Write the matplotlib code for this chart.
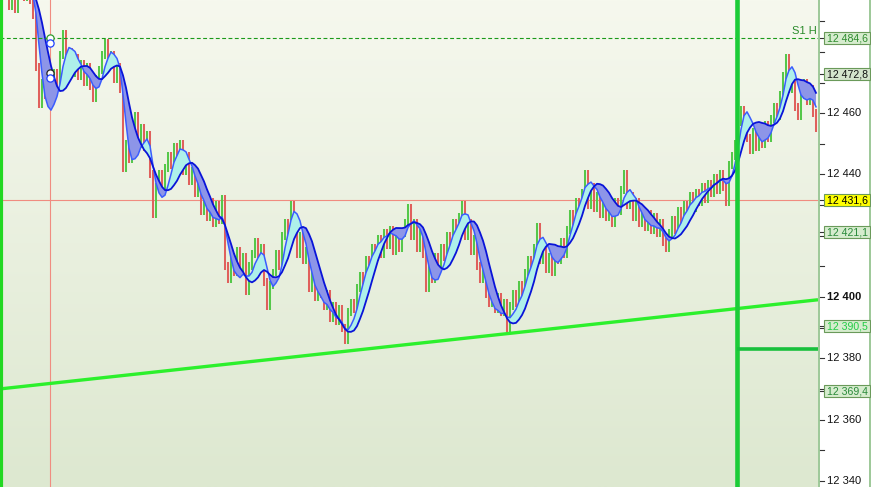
import numpy as np
import matplotlib
matplotlib.use("Agg")
import matplotlib.pyplot as plt
from matplotlib.patches import Rectangle
from matplotlib.colors import LinearSegmentedColormap

# ---------------- data ----------------
closes = [
    12499, 12495, 12501, 12494, 12500, 12503, 12498, 12502, 12497, 12492,
    12475, 12463, 12470, 12466, 12472, 12468, 12473, 12470, 12479, 12486,
    12477, 12480, 12473, 12478, 12472, 12476, 12470, 12475, 12469, 12465,
    12471, 12474, 12479, 12483, 12476, 12479, 12471, 12475, 12468, 12442,
    12450, 12445, 12455, 12459, 12450, 12455, 12449, 12453, 12440, 12427,
    12436, 12440, 12436, 12442, 12446, 12443, 12449, 12444, 12450, 12441,
    12446, 12438, 12441, 12434, 12437, 12428, 12434, 12426, 12431, 12424,
    12430, 12425, 12432, 12410, 12406, 12413, 12408, 12415, 12409, 12413,
    12402, 12410, 12414, 12418, 12412, 12416, 12405, 12397, 12404, 12408,
    12414, 12410, 12420, 12424, 12420, 12430, 12425, 12414, 12420, 12412,
    12415, 12403, 12408, 12400, 12406, 12401, 12397, 12401, 12393, 12397,
    12392, 12396, 12390, 12386, 12395, 12398, 12396, 12403, 12407, 12404,
    12412, 12408, 12416, 12413, 12419, 12414, 12421, 12417, 12422, 12415,
    12419, 12416, 12421, 12424, 12429, 12420, 12424, 12416, 12421, 12414,
    12403, 12409, 12406, 12413, 12410, 12416, 12413, 12420, 12418, 12424,
    12420, 12426, 12430, 12420, 12424, 12415, 12419, 12410, 12406, 12410,
    12401, 12398, 12402, 12396, 12400, 12395, 12398, 12390, 12397, 12401,
    12398, 12404, 12401, 12408, 12412, 12409, 12416, 12423, 12412, 12416,
    12409, 12413, 12408, 12415, 12412, 12418, 12414, 12422, 12427, 12424,
    12431, 12428, 12434, 12440, 12430, 12436, 12429, 12433, 12427, 12431,
    12426, 12429, 12424, 12431, 12428, 12435, 12440, 12430, 12433, 12426,
    12431, 12424, 12428, 12423, 12427, 12422, 12426, 12421, 12424, 12418,
    12416, 12421, 12425, 12422, 12428, 12424, 12430, 12427, 12433, 12429,
    12434, 12431, 12436, 12432, 12437, 12434, 12439, 12435, 12440, 12436,
    12431, 12443, 12446, 12450, 12457, 12461, 12456, 12452, 12448, 12454,
    12449, 12453, 12450, 12456, 12452, 12458, 12462, 12459, 12466, 12472,
    12478, 12468, 12471, 12462, 12459, 12466, 12470, 12464, 12468, 12460,
    12455,
]

y_top, y_bottom = 12496.93, 12337.99
major_ticks = [12340, 12360, 12380, 12400, 12420, 12440, 12460, 12480]
minor_ticks = [12350, 12370, 12390, 12410, 12430, 12450, 12470, 12490]

s1_level = 12484.6
cross_level = 12431.6
cross_bar = 14.67
session_bar = 243.7
session_low = 12383.1
trend_start, trend_end = 12370.0, 12399.1
marker_levels = [12484.6, 12483.0, 12473.2, 12471.5]
marker_edges = ["#2f9a2f", "#2040ff", "#222222", "#2040ff"]

box_values = [12484.6, 12472.8, 12431.6, 12421.1, 12390.5, 12369.4]
box_fill = ["#d6ecce", "#d4e4cc", "#ffff00", "#d6ecce", "#d6ecce", "#d6ecce"]
box_text = ["#2e8b2e", "#111111", "#000000", "#2a8a3a", "#22cc44", "#2a8a3a"]

# ---------------- helpers ----------------
def wma(x, n):
    x = np.asarray(x, float)
    out = np.empty_like(x)
    for i in range(len(x)):
        seg = x[max(0, i - n + 1):i + 1]
        w = np.arange(1, len(seg) + 1)
        out[i] = np.sum(seg * w) / w.sum()
    return out

def hma(x, n):
    raw = 2 * wma(x, n // 2) - wma(x, n)
    return wma(raw, max(2, int(round(np.sqrt(n)))))

c = np.array(closes, float)
idx = np.arange(len(c))
prev = np.concatenate([[c[0]], c[:-1]])
lo = np.minimum(prev, c) - 1.3
hi = np.maximum(prev, c) + 1.3
cols = np.where(c >= prev, "#55c84a", "#e0605c")

fast = hma(c, 12)
slow = hma(c, 22)

# ---------------- figure ----------------
W, H = 871, 487
fig = plt.figure(figsize=(W / 100, H / 100), dpi=100)
ax = fig.add_axes([0, 0, 818 / W, 1])
ax.set_xlim(-2, 270.667)
ax.set_ylim(y_bottom, y_top)
ax.axis("off")

grad = np.linspace(0, 1, 256).reshape(-1, 1)
cmap = LinearSegmentedColormap.from_list("bg", ["#f6f8ee", "#dde8d0"])
ax.imshow(grad, aspect="auto", cmap=cmap, extent=[0, 1, 0, 1],
          transform=ax.transAxes, zorder=0)

# crosshair
ax.axhline(cross_level, color="#f08c80", lw=0.8, zorder=1)
ax.axvline(cross_bar, color="#f08c80", lw=0.8, zorder=1)

# bars
ax.vlines(idx, lo, hi, colors=cols, linewidth=1.45, zorder=2)

# moving averages with fill
ax.fill_between(idx, fast, slow, where=fast >= slow, interpolate=True,
                color="#aef0ea", lw=0, zorder=3)
ax.fill_between(idx, fast, slow, where=fast < slow, interpolate=True,
                color="#8d95e8", lw=0, zorder=3)
ax.plot(idx, fast, color="#3a5cff", lw=1.1, zorder=4)
ax.plot(idx, slow, color="#0a14d8", lw=1.3, zorder=4)

# S1 H dashed level
ax.axhline(s1_level, color="#1a9a1a", lw=0.8, dashes=(3.5, 2.2), zorder=5)
ax.text(270.3, s1_level + 0.7, "S1 H", color="#2a8a2a", fontsize=8,
        ha="right", va="bottom", family="Liberation Sans", zorder=6)

# trend line
ax.plot([-2, 270.667], [trend_start, trend_end], color="#2cf02c", lw=2.4,
        solid_capstyle="butt", zorder=5)

# session lines
ax.axvline(session_bar, color="#1ccc38", lw=3.3, zorder=6)
ax.axvline(-1.6, color="#22d822", lw=3.0, zorder=6)
ax.plot([session_bar, 270.667], [session_low, session_low], color="#18c03c",
        lw=2.6, solid_capstyle="butt", zorder=6)

# markers
for lv, ec in zip(marker_levels, marker_edges):
    ax.plot([cross_bar], [lv], "o", ms=5.2, mfc="white", mec=ec, mew=0.9,
            zorder=7)

# ---------------- right price panel ----------------
pax = fig.add_axes([818 / W, 0, 53 / W, 1])
pax.set_xlim(0, 53)
pax.set_ylim(y_bottom, y_top)
pax.axis("off")
pax.add_patch(Rectangle((0, 0), 1, 1, transform=pax.transAxes,
                        facecolor="white", edgecolor="none", zorder=0))
pax.plot([0.8, 0.8], [y_bottom, y_top], color="#8cbf86", lw=1.2, zorder=1)
pax.plot([52.3, 52.3], [y_bottom, y_top], color="#8cbf86", lw=1.2, zorder=1)

for t in major_ticks + minor_ticks:
    pax.plot([1.5, 5.5], [t, t], color="#333333", lw=0.8, zorder=2)

half = 1.95
covered = [t for t in major_ticks
           if any(abs(t - v) < 2 * half + 1.0 for v in box_values)]
for t in major_ticks:
    if t in covered:
        continue
    lab = f"{t:,}".replace(",", " ")
    pax.text(8.5, t, lab, fontsize=8.0, va="center", ha="left",
             family="Liberation Sans", color="#111111",
             fontweight="bold" if t == 12400 else "normal", zorder=3)

for v, fc, tc in zip(box_values, box_fill, box_text):
    pax.plot([1.5, 6], [v, v], color="#333333", lw=0.8, zorder=4)
    pax.add_patch(Rectangle((6, v - half), 46, 2 * half, facecolor=fc,
                            edgecolor="#6a9a5a", lw=0.8, zorder=5))
    lab = f"{v:,.1f}".replace(",", " ").replace(".", ",")
    pax.text(8.8, v - 0.1, lab, fontsize=7.6, va="center", ha="left",
             family="Liberation Sans", color=tc, zorder=6)

fig.savefig("out.png", dpi=100)
